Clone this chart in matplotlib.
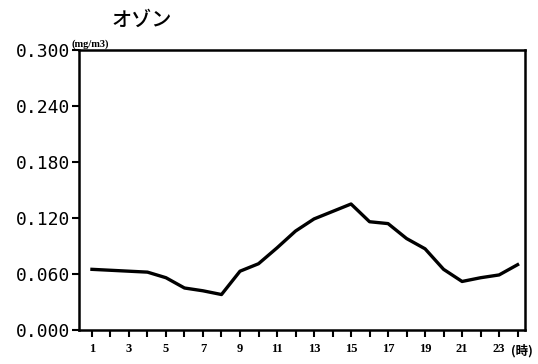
import matplotlib
matplotlib.use("Agg")
import matplotlib.pyplot as plt

hours = list(range(1, 25))
ozone = [0.065, 0.064, 0.063, 0.062, 0.056, 0.045, 0.042, 0.038, 0.063, 0.071,
         0.088, 0.106, 0.119, 0.127, 0.135, 0.116, 0.114, 0.098, 0.087, 0.065,
         0.052, 0.056, 0.059, 0.070]
yticks = [0.0, 0.06, 0.12, 0.18, 0.24, 0.30]
ytick_labels = ["0.000", "0.060", "0.120", "0.180", "0.240", "0.300"]
xtick_labels = [str(h) if h % 2 == 1 else "" for h in hours]
title = "オゾン"
unit = "(mg/m3)"
xunit = "(時)"

fig = plt.figure(figsize=(5.38, 3.64), dpi=100)
ax = fig.add_axes([79/538, 1-330/364, 446/538, 280/364])
ax.plot(hours, ozone, color="black", lw=2.4, solid_joinstyle="round")
ax.set_xlim(0.3, 24.4)
ax.set_ylim(0, 0.30)
ax.set_yticks(yticks)
ax.set_yticklabels(ytick_labels, family="DejaVu Sans Mono", fontsize=13)
ax.set_xticks(hours)
ax.set_xticklabels(xtick_labels, family="Liberation Serif", fontweight="bold", fontsize=9)
ax.tick_params(axis="y", direction="out", length=5, width=1.5, pad=1)
ax.tick_params(axis="x", direction="out", length=5, width=1.5, pad=4)
for s in ax.spines.values():
    s.set_linewidth(1.8)

fig.text(142/538, 1-20/364, title, family=["Noto Sans CJK JP", "DejaVu Sans"],
         fontsize=14.5, fontweight="medium", ha="center", va="center")
fig.text(72/538, 1-44/364, unit, family="Liberation Serif", fontweight="bold",
         fontsize=7.5, ha="left", va="center")
fig.text(511/538, 1-351/364, xunit, family=["Noto Sans CJK JP", "DejaVu Sans"],
         fontweight="bold", fontsize=9, ha="left", va="center")

fig.savefig("out.png", dpi=100, facecolor="white")
